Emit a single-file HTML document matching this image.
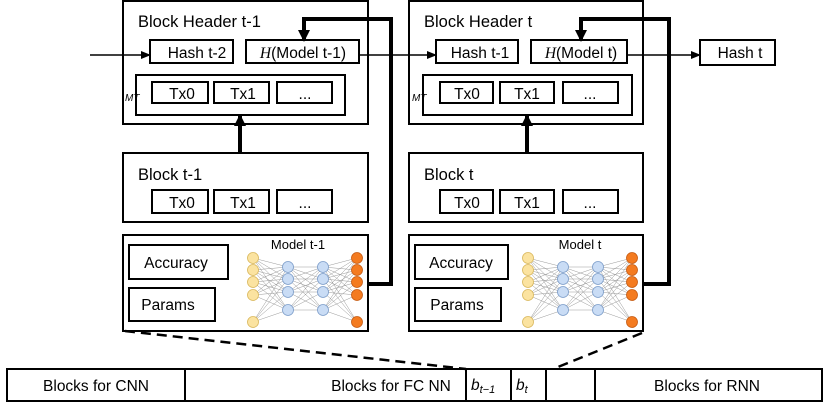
<!DOCTYPE html>
<html><head><style>
body{margin:0;background:#fff}
svg text{font-family:"Liberation Sans",sans-serif;fill:#000}
</style></head><body>
<svg width="830" height="409" viewBox="0 0 830 409" xmlns="http://www.w3.org/2000/svg">
<defs>
<marker id="a" markerWidth="10" markerHeight="8" refX="9" refY="4" orient="auto" markerUnits="userSpaceOnUse"><path d="M0,0L10,4L0,8z" fill="#000"/></marker>
<marker id="b" markerWidth="12" markerHeight="12" refX="10" refY="6" orient="auto" markerUnits="userSpaceOnUse"><path d="M0,0L12,6L0,12z" fill="#000"/></marker>
<g id="nn">
<path stroke="#999" stroke-width="0.5" fill="none" d="
M253 258L288 267M253 258L288 279M253 258L288 292M253 258L288 310
M253 270L288 267M253 270L288 279M253 270L288 292M253 270L288 310
M253 282L288 267M253 282L288 279M253 282L288 292M253 282L288 310
M253 295L288 267M253 295L288 279M253 295L288 292M253 295L288 310
M253 322L288 267M253 322L288 279M253 322L288 292M253 322L288 310
M288 267L323 267M288 267L323 279M288 267L323 292M288 267L323 310
M288 279L323 267M288 279L323 279M288 279L323 292M288 279L323 310
M288 292L323 267M288 292L323 279M288 292L323 292M288 292L323 310
M288 310L323 267M288 310L323 279M288 310L323 292M288 310L323 310
M323 267L357 258M323 267L357 270M323 267L357 282M323 267L357 295M323 267L357 322
M323 279L357 258M323 279L357 270M323 279L357 282M323 279L357 295M323 279L357 322
M323 292L357 258M323 292L357 270M323 292L357 282M323 292L357 295M323 292L357 322
M323 310L357 258M323 310L357 270M323 310L357 282M323 310L357 295M323 310L357 322"/>
<g fill="#fbe3a0" stroke="#d9b75a" stroke-width="0.8">
<circle cx="253" cy="258" r="5.5"/><circle cx="253" cy="270" r="5.5"/><circle cx="253" cy="282" r="5.5"/><circle cx="253" cy="295" r="5.5"/><circle cx="253" cy="322" r="5.5"/>
</g>
<g fill="#c9dcf5" stroke="#7b9cc9" stroke-width="0.8">
<circle cx="288" cy="267" r="5.5"/><circle cx="288" cy="279" r="5.5"/><circle cx="288" cy="292" r="5.5"/><circle cx="288" cy="310" r="5.5"/>
<circle cx="323" cy="267" r="5.5"/><circle cx="323" cy="279" r="5.5"/><circle cx="323" cy="292" r="5.5"/><circle cx="323" cy="310" r="5.5"/>
</g>
<g fill="#f47b20" stroke="#c65a10" stroke-width="0.8">
<circle cx="357" cy="258" r="5.5"/><circle cx="357" cy="270" r="5.5"/><circle cx="357" cy="282" r="5.5"/><circle cx="357" cy="295" r="5.5"/><circle cx="357" cy="322" r="5.5"/>
</g>
</g>
</defs>
<use href="#nn"/>
<use href="#nn" transform="translate(275,0)"/>
<g fill="none" stroke="#000">
<line x1="90" y1="55" x2="150" y2="55" stroke-width="1.5" marker-end="url(#a)"/>
<line x1="359" y1="55" x2="436" y2="55" stroke-width="1.5" marker-end="url(#a)"/>
<line x1="627" y1="55" x2="700" y2="55" stroke-width="1.5" marker-end="url(#a)"/>
<rect x="123" y="1" width="245" height="123" stroke-width="2"/>
<rect x="150" y="40" width="83" height="23" stroke-width="2"/>
<rect x="246" y="40" width="113" height="23" stroke-width="2"/>
<rect x="136" y="75" width="209" height="40" stroke-width="2"/>
<rect x="152" y="82" width="56" height="21" stroke-width="2"/>
<rect x="214" y="82" width="55" height="21" stroke-width="2"/>
<rect x="277" y="82" width="55" height="21" stroke-width="2"/>
<rect x="123" y="153" width="245" height="69" stroke-width="2"/>
<rect x="152" y="190" width="56" height="23" stroke-width="2"/>
<rect x="214" y="190" width="55" height="23" stroke-width="2"/>
<rect x="277" y="190" width="55" height="23" stroke-width="2"/>
<rect x="123" y="235" width="245" height="96" stroke-width="2"/>
<rect x="129" y="245" width="99" height="34" stroke-width="2"/>
<rect x="129" y="288" width="86" height="33" stroke-width="2"/>
<line x1="240" y1="153" x2="240" y2="116" stroke-width="4" marker-end="url(#b)"/>
<polyline points="368,284 391,284 391,19 304,19 304,40" stroke-width="4" marker-end="url(#b)"/>
<rect x="409" y="1" width="234" height="123" stroke-width="2"/>
<rect x="436" y="40" width="82" height="23" stroke-width="2"/>
<rect x="531" y="40" width="96" height="23" stroke-width="2"/>
<rect x="423" y="75" width="209" height="40" stroke-width="2"/>
<rect x="440" y="82" width="53" height="21" stroke-width="2"/>
<rect x="500" y="82" width="54" height="21" stroke-width="2"/>
<rect x="563" y="82" width="55" height="21" stroke-width="2"/>
<rect x="409" y="153" width="234" height="69" stroke-width="2"/>
<rect x="440" y="190" width="53" height="23" stroke-width="2"/>
<rect x="500" y="190" width="54" height="23" stroke-width="2"/>
<rect x="563" y="190" width="55" height="23" stroke-width="2"/>
<rect x="409" y="235" width="234" height="96" stroke-width="2"/>
<rect x="415" y="245" width="93" height="34" stroke-width="2"/>
<rect x="415" y="288" width="86" height="33" stroke-width="2"/>
<line x1="527" y1="153" x2="527" y2="116" stroke-width="4" marker-end="url(#b)"/>
<polyline points="643,284 669,284 669,19 581,19 581,40" stroke-width="4" marker-end="url(#b)"/>
<rect x="700" y="40" width="75" height="25" stroke-width="2"/>
<line x1="125" y1="331" x2="466" y2="369" stroke-width="2.5" stroke-dasharray="10,6"/>
<line x1="642" y1="333" x2="553" y2="369" stroke-width="2.5" stroke-dasharray="10,6"/>
<rect x="7" y="369" width="815" height="32" stroke-width="2"/>
<line x1="185" y1="369" x2="185" y2="401" stroke-width="2"/>
<line x1="595" y1="369" x2="595" y2="401" stroke-width="2"/>
<rect x="466" y="369" width="45" height="32" stroke-width="2"/>
<rect x="511" y="369" width="35" height="32" stroke-width="2"/>
</g>
<g font-size="15.5" text-anchor="middle">
<text x="138" y="27" font-size="16.5" text-anchor="start">Block Header t-1</text>
<text x="197" y="58">Hash t-2</text>
<text x="303" y="58"><tspan font-family="Liberation Serif" font-style="italic">H</tspan>(Model t-1)</text>
<text x="125" y="101" font-size="10" font-family="Liberation Serif" font-style="italic" text-anchor="start">MT</text>
<text x="182" y="99">Tx0</text><text x="243" y="99">Tx1</text><text x="305" y="99">...</text>
<text x="138" y="180" font-size="16.5" text-anchor="start">Block t-1</text>
<text x="182" y="208">Tx0</text><text x="243" y="208">Tx1</text><text x="305" y="208">...</text>
<text x="176" y="268">Accuracy</text>
<text x="168" y="310">Params</text>
<text x="298" y="249" font-size="13">Model t-1</text>
<text x="424" y="27" font-size="16.5" text-anchor="start">Block Header t</text>
<text x="480" y="58">Hash t-1</text>
<text x="581" y="58"><tspan font-family="Liberation Serif" font-style="italic">H</tspan>(Model t)</text>
<text x="412" y="101" font-size="10" font-family="Liberation Serif" font-style="italic" text-anchor="start">MT</text>
<text x="467" y="99">Tx0</text><text x="527" y="99">Tx1</text><text x="590" y="99">...</text>
<text x="424" y="180" font-size="16.5" text-anchor="start">Block t</text>
<text x="467" y="208">Tx0</text><text x="527" y="208">Tx1</text><text x="590" y="208">...</text>
<text x="461" y="268">Accuracy</text>
<text x="457" y="310">Params</text>
<text x="580" y="249" font-size="13">Model t</text>
<text x="740" y="58">Hash t</text>
<text x="96" y="391">Blocks for CNN</text>
<text x="391" y="391">Blocks for FC NN</text>
<text x="707" y="391">Blocks for RNN</text>
<text x="471" y="390" font-family="Liberation Serif" font-style="italic" text-anchor="start">b<tspan font-size="11" dy="3">t−1</tspan></text>
<text x="516" y="390" font-family="Liberation Serif" font-style="italic" text-anchor="start">b<tspan font-size="11" dy="3">t</tspan></text>
</g>
</svg>
</body></html>
